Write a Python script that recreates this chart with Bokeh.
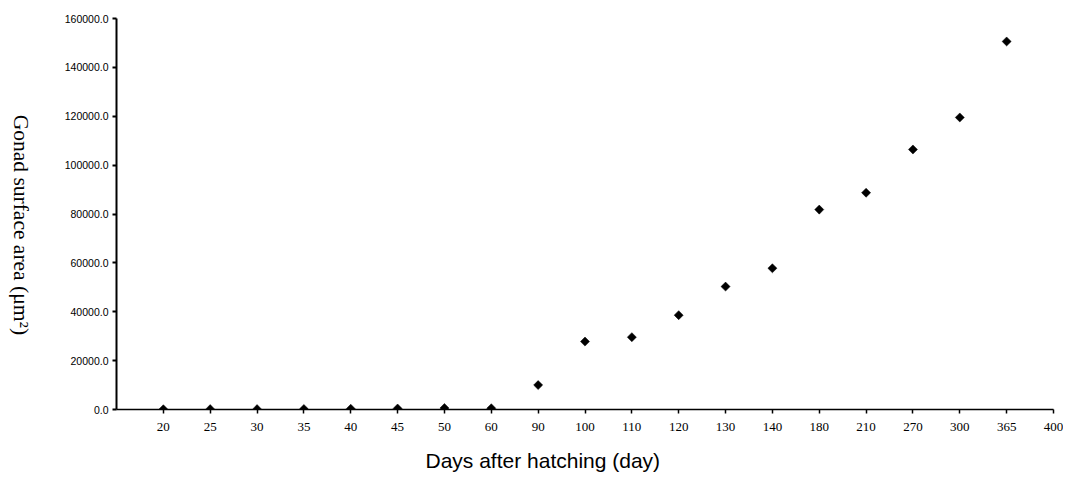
import math
from bokeh.plotting import figure
from bokeh.layouts import row
from bokeh.models import FixedTicker, PrintfTickFormatter, Label, ColumnDataSource, Range1d, Title
from bokeh.embed import file_html
from bokeh.resources import INLINE

# Data
days = ["20", "25", "30", "35", "40", "45", "50", "60", "90", "100",
        "110", "120", "130", "140", "180", "210", "270", "300", "365"]
axis_labels = days + ["400"]
area = [100, 150, 150, 200, 300, 400, 600, 500, 10000, 27800,
        29600, 38600, 50300, 57800, 81800, 88700, 106400, 119500, 150600]
y_ticks = [0, 20000, 40000, 60000, 80000, 100000, 120000, 140000, 160000]

pos = list(range(1, len(days) + 1))
src = ColumnDataSource(data=dict(x=pos, y=area, day=days))

H = 485
TW = 40

# Narrow figure holding the rotated y-axis title
t = figure(width=TW, height=H, output_backend="svg", toolbar_location=None,
           x_range=Range1d(0, TW), y_range=Range1d(0, H),
           x_axis_location=None, y_axis_location=None,
           min_border_left=0, min_border_right=0, min_border_top=0, min_border_bottom=0)
t.outline_line_color = None
t.xgrid.visible = False
t.ygrid.visible = False
t.add_layout(Label(x=20, y=H - 256,
                   text="Gonad surface area (\u03bcm\u00b2)", text_font="Liberation Serif",
                   text_font_size="21.5px", text_align="center", text_baseline="middle",
                   angle=-math.pi / 2, text_color="black"))

p = figure(width=1063 - TW, height=H, output_backend="svg", toolbar_location=None,
           x_range=Range1d(0, len(axis_labels)), y_range=Range1d(0, 160000),
           min_border_left=116 - TW, min_border_right=10, min_border_top=18,
           min_border_bottom=H - 409)
p.outline_line_color = None
p.xgrid.visible = False
p.ygrid.visible = False
p.background_fill_color = "white"
p.border_fill_color = "white"

p.scatter("x", "y", source=src, marker="square", angle=math.pi / 4, size=6.4,
          fill_color="black", line_color="black", line_width=0.5)

# X axis
xa = p.xaxis[0]
xa.ticker = FixedTicker(ticks=list(range(1, len(axis_labels) + 1)))
xa.major_label_overrides = {i + 1: lab for i, lab in enumerate(axis_labels)}
xa.minor_tick_line_color = None
xa.major_tick_in = 0
xa.major_tick_out = 4
xa.axis_line_width = 1.5
xa.major_tick_line_width = 1.5
xa.axis_line_color = "black"
xa.major_tick_line_color = "black"
xa.major_label_text_font = "Liberation Serif"
xa.major_label_text_font_size = "13px"
xa.major_label_text_color = "black"
xa.major_label_standoff = 9

# Y axis
ya = p.yaxis[0]
ya.ticker = FixedTicker(ticks=y_ticks)
ya.formatter = PrintfTickFormatter(format="%.1f")
ya.minor_tick_line_color = None
ya.major_tick_in = 0
ya.major_tick_out = 4
ya.axis_line_width = 2
ya.major_tick_line_width = 2
ya.axis_line_color = "black"
ya.major_tick_line_color = "black"
ya.major_label_text_font = "Liberation Sans"
ya.major_label_text_font_size = "10.5px"
ya.major_label_text_color = "black"
ya.major_label_standoff = 4

# X-axis title, placed below the axis, offset to sit left of centre as in the reference
p.add_layout(Title(text="Days after hatching (day)", text_font="Liberation Sans",
                   text_font_size="21px", text_font_style="normal", text_color="black",
                   align="left", offset=425 - 116, standoff=26), "below")

layout = row(t, p, spacing=0)
open("out.html", "w").write(file_html(layout, INLINE))
